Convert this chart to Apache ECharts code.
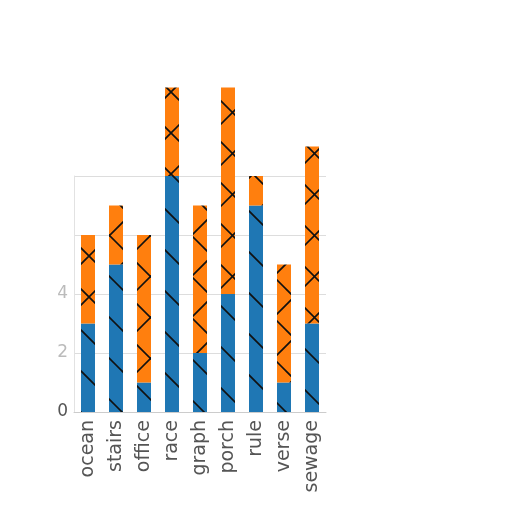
<!DOCTYPE html>
<html><head><meta charset="utf-8">
<script src="https://cdn.jsdelivr.net/npm/echarts@6/dist/echarts.min.js"></script>
<style>html,body{margin:0;padding:0;background:#fff}#c{width:512px;height:512px}</style>
</head><body><div id="c"></div>
<script>
const categories = ['ocean','stairs','office','race','graph','porch','rule','verse','sewage'];
const blueValues = [3,5,1,8,2,4,7,1,3];
const orangeValues = [3,2,5,3,5,7,1,4,6];
const yTicks = [0,2,4];

function makePattern(fill, kind){
  const P = 41, a = 3, b = 17;
  const c = document.createElement('canvas');
  c.width = P; c.height = P;
  const g = c.getContext('2d');
  g.fillStyle = fill; g.fillRect(0,0,P,P);
  g.strokeStyle = '#111'; g.lineWidth = 1.6;
  g.beginPath();
  for (let k=-3;k<=3;k++){
    g.moveTo(-P, -P + a + k*P); g.lineTo(2*P, 2*P + a + k*P);
    if (kind === 'x'){ g.moveTo(-P, b + k*P + P); g.lineTo(2*P, b + k*P - 2*P); }
  }
  g.stroke();
  return c;
}
const chart = echarts.init(document.getElementById('c'));
chart.setOption({
  animation:false,
  grid:{left:74,right:186,top:176,bottom:100},
  xAxis:{type:'category',data:categories,
    axisLine:{lineStyle:{color:'#ccc'}},axisTick:{show:false},
    axisLabel:{rotate:90,interval:0,fontSize:19,color:'#555',fontFamily:'DejaVu Sans',margin:8}},
  yAxis:{type:'value',min:0,max:8,interval:2,
    axisLine:{show:true,lineStyle:{color:'#e2e2e2'}},
    splitLine:{lineStyle:{color:'#ddd'}},
    axisLabel:{fontSize:17,fontFamily:'DejaVu Sans',margin:6,
      formatter:v=>yTicks.indexOf(v)>=0?String(v):'',
      color:v=>(+v===0?'#555':'#bbb')}},
  series:[
    {type:'bar',stack:'a',data:blueValues,barWidth:'50%',clip:false,
     itemStyle:{color:{image:makePattern('#1f77b4','\\'),repeat:'repeat'}}},
    {type:'bar',stack:'a',data:orangeValues,barWidth:'50%',clip:false,
     itemStyle:{color:{image:makePattern('#ff7f0e','x'),repeat:'repeat'}}}
  ]
});
</script></body></html>
